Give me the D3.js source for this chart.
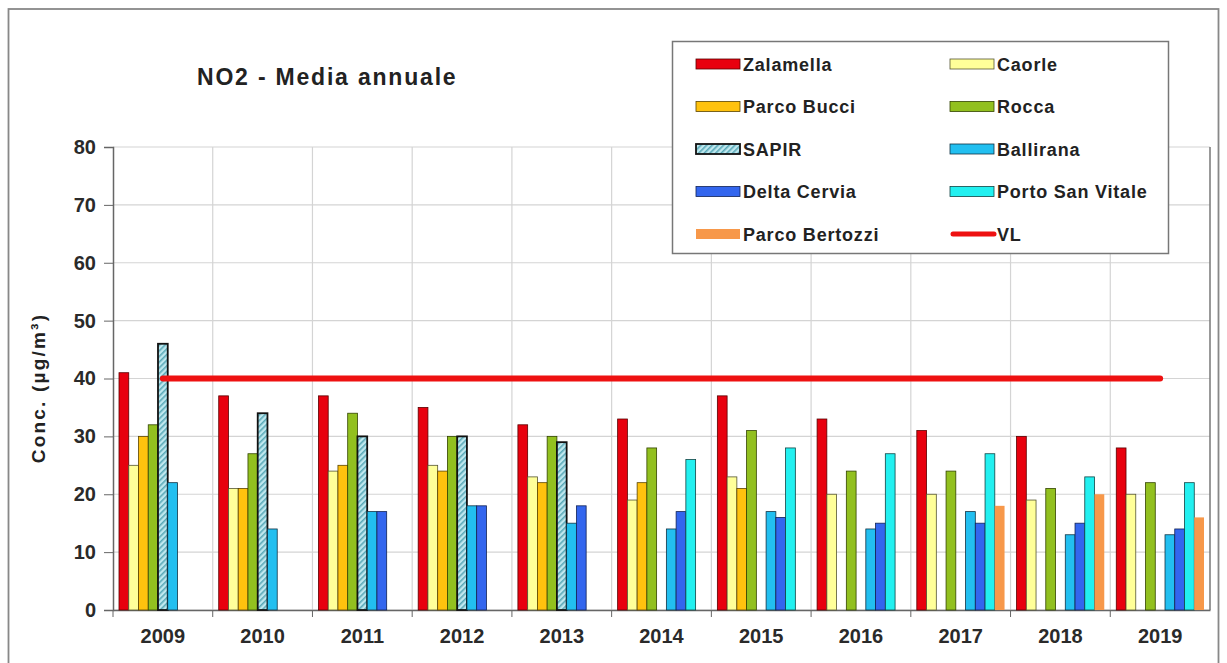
<!DOCTYPE html>
<html>
<head>
<meta charset="utf-8">
<title>NO2 - Media annuale</title>
<script src="https://d3js.org/d3.v7.min.js"></script>
<style>
 body { margin: 0; background: #fff; }
 text { font-family: "Liberation Sans", Arial, sans-serif; fill: #222; }
 .tick text { font-size: 20px; font-weight: bold; fill: #2a2a2a; }
 .title { font-size: 23px; font-weight: bold; letter-spacing: 1.8px; }
 .ylabel { font-size: 19px; font-weight: bold; letter-spacing: 2.2px; }
 .legend text { font-size: 18px; font-weight: bold; letter-spacing: 0.8px; }
</style>
</head>
<body>
<div id="chart"></div>
<script>
// data
var years = ["2009","2010","2011","2012","2013","2014","2015","2016","2017","2018","2019"];
var stations = ["Zalamella","Caorle","Parco Bucci","Rocca","SAPIR","Ballirana","Delta Cervia","Porto San Vitale","Parco Bertozzi"];
var zalamella     = [41, 37, 37, 35, 32, 33, 37, 33, 31, 30, 28];
var caorle        = [25, 21, 24, 25, 23, 19, 23, 20, 20, 19, 20];
var parcoBucci    = [30, 21, 25, 24, 22, 22, 21, null, null, null, null];
var rocca         = [32, 27, 34, 30, 30, 28, 31, 24, 24, 21, 22];
var sapir         = [46, 34, 30, 30, 29, null, null, null, null, null, null];
var ballirana     = [22, 14, 17, 18, 15, 14, 17, 14, 17, 13, 13];
var deltaCervia   = [null, null, 17, 18, 18, 17, 16, 15, 15, 15, 14];
var portoSanVitale= [null, null, null, null, null, 26, 28, 27, 27, 23, 22];
var parcoBertozzi = [null, null, null, null, null, null, null, null, 18, 20, 16];
var vl            = [40, 40, 40, 40, 40, 40, 40, 40, 40, 40, 40];
var yTicks = [0, 10, 20, 30, 40, 50, 60, 70, 80];

var seriesValues = [zalamella, caorle, parcoBucci, rocca, sapir, ballirana, deltaCervia, portoSanVitale, parcoBertozzi];
var colors = ["#e8000e","#ffff99","#ffc20e","#92c01f","url(#hatch)","#22bff0","#3366ee","#22f0f0","#f7984a"];
var strokes = ["#5a0000","#555533","#5a4400","#334400","#111","#113344","#112255","#114444","none"];

var W = 1227, H = 663;
var margin = {top: 147, right: 17, bottom: 53, left: 113};
var width = W - margin.left - margin.right;
var height = H - margin.top - margin.bottom;

var svg = d3.select("#chart").append("svg")
  .attr("width", W)
  .attr("height", H);

var defs = svg.append("defs");
var pat = defs.append("pattern")
  .attr("id", "hatch")
  .attr("patternUnits", "userSpaceOnUse")
  .attr("width", 4).attr("height", 4)
  .attr("patternTransform", "rotate(45)");
pat.append("rect").attr("width", 4).attr("height", 4).attr("fill", "#bfe8ef");
pat.append("rect").attr("width", 1.6).attr("height", 4).attr("fill", "#5aa9b8");

// outer frame
svg.append("rect")
  .attr("x", 8.5).attr("y", 9)
  .attr("width", W - 17).attr("height", H)
  .attr("fill", "none").attr("stroke", "#888").attr("stroke-width", 1.8);

var g = svg.append("g")
  .attr("transform", "translate(" + margin.left + "," + margin.top + ")");

var x0 = d3.scaleBand().domain(years).range([0, width]).padding(0);
var x1 = d3.scaleBand().domain(stations).range([6, x0.bandwidth() - 6]).padding(0);
var y = d3.scaleLinear().domain([0, 80]).range([height, 0]);

// grid
g.append("g").selectAll("line").data(yTicks).join("line")
  .attr("x1", 0).attr("x2", width)
  .attr("y1", function(d){ return y(d); }).attr("y2", function(d){ return y(d); })
  .attr("stroke", "#d4d4d4").attr("stroke-width", 1.2);
g.append("g").selectAll("line").data(years.slice(1)).join("line")
  .attr("x1", function(d){ return x0(d); }).attr("x2", function(d){ return x0(d); })
  .attr("y1", 0).attr("y2", height)
  .attr("stroke", "#d4d4d4").attr("stroke-width", 1.2);
g.append("line")
  .attr("x1", width).attr("x2", width).attr("y1", 0).attr("y2", height)
  .attr("stroke", "#777").attr("stroke-width", 1.5);

// axes
var yAxis = g.append("g")
  .call(d3.axisLeft(y).tickValues(yTicks).tickSize(9).tickPadding(8));
var xAxis = g.append("g")
  .attr("transform", "translate(0," + height + ")")
  .call(d3.axisBottom(x0).tickSize(0).tickPadding(19));
xAxis.selectAll(".tick").append("line")
  .attr("x1", -x0.bandwidth() / 2).attr("x2", -x0.bandwidth() / 2)
  .attr("y1", 0).attr("y2", 7).attr("stroke", "#666");
[yAxis, xAxis].forEach(function(a){
  a.select(".domain").attr("stroke", "#666").attr("stroke-width", 1.5);
  a.selectAll(".tick line").attr("stroke", "#666");
});

// bars
var rows = [];
seriesValues.forEach(function(vals, si){
  vals.forEach(function(v, yi){
    if (v != null) rows.push({year: years[yi], station: stations[si], value: v, si: si});
  });
});
g.append("g").selectAll("rect").data(rows).join("rect")
  .attr("x", function(d){ return x0(d.year) + x1(d.station); })
  .attr("y", function(d){ return y(d.value); })
  .attr("width", x1.bandwidth())
  .attr("height", function(d){ return height - y(d.value); })
  .attr("fill", function(d){ return colors[d.si]; })
  .attr("stroke", function(d){ return strokes[d.si]; })
  .attr("stroke-width", function(d){ return d.si === 4 ? 1.8 : 0.8; });

// VL line
g.append("path")
  .datum(vl)
  .attr("fill", "none")
  .attr("stroke", "#ee1111")
  .attr("stroke-width", 6)
  .attr("stroke-linecap", "round")
  .attr("d", d3.line()
    .x(function(d, i){ return x0(years[i]) + x0.bandwidth() / 2; })
    .y(function(d){ return y(d); }));

// title + y label
svg.append("text").attr("class", "title")
  .attr("x", 197).attr("y", 85).text("NO2 - Media annuale");
svg.append("text").attr("class", "ylabel")
  .attr("transform", "translate(45,388) rotate(-90)")
  .attr("text-anchor", "middle")
  .text("Conc. (\u00b5g/m\u00b3)");

// legend
var leg = svg.append("g").attr("class", "legend");
leg.append("rect")
  .attr("x", 672.5).attr("y", 41.5).attr("width", 496).attr("height", 212)
  .attr("fill", "#fff").attr("stroke", "#777").attr("stroke-width", 1.5);
var legItems = stations.map(function(s, i){ return {name: s, i: i}; });
legItems.push({name: "VL", i: 9});
var legRowY = d3.scalePoint().domain(d3.range(5)).range([64, 234]);
var item = leg.selectAll("g.item").data(legItems).join("g")
  .attr("class", "item")
  .attr("transform", function(d){
    return "translate(" + (d.i % 2 === 0 ? 696 : 950) + "," + legRowY(Math.floor(d.i / 2)) + ")";
  });
item.filter(function(d){ return d.i < 9; }).append("rect")
  .attr("x", 0).attr("y", -5).attr("width", 44).attr("height", 10)
  .attr("fill", function(d){ return colors[d.i]; })
  .attr("stroke", function(d){ return strokes[d.i]; })
  .attr("stroke-width", function(d){ return d.i === 4 ? 1.8 : 0.8; });
item.filter(function(d){ return d.i === 9; }).append("line")
  .attr("x1", 3).attr("x2", 44).attr("y1", 0).attr("y2", 0)
  .attr("stroke", "#ee1111").attr("stroke-width", 5).attr("stroke-linecap", "round");
item.append("text")
  .attr("x", 47).attr("y", 6.5)
  .text(function(d){ return d.name; });
</script>
</body>
</html>
